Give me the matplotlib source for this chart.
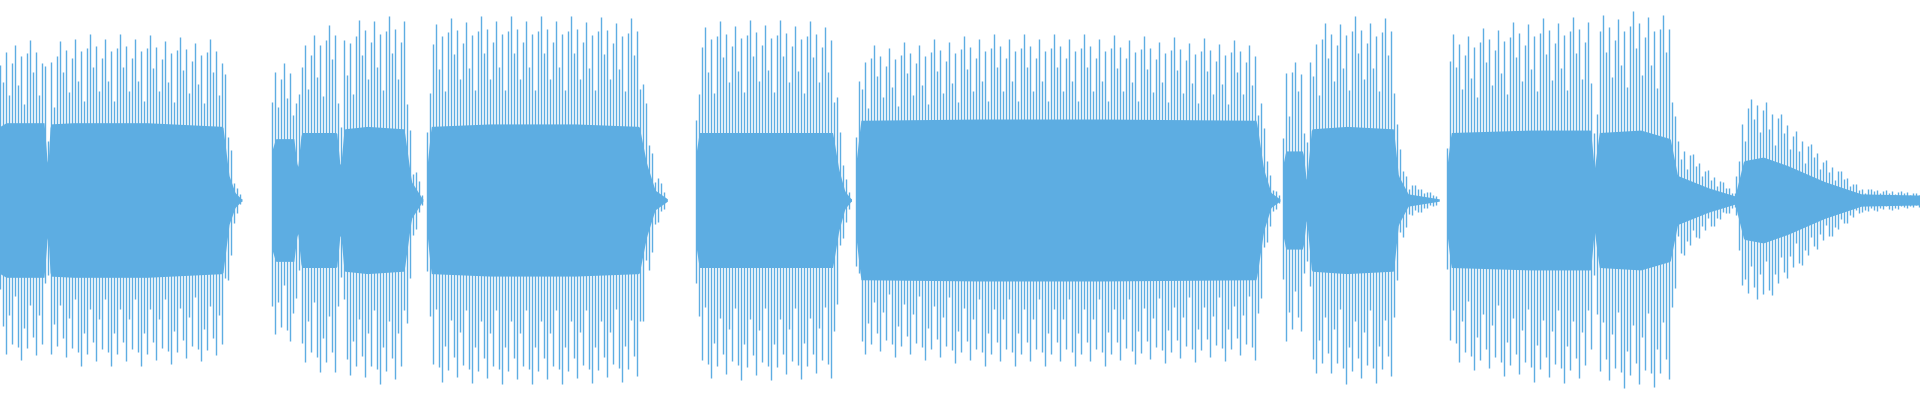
import numpy as np
import matplotlib
matplotlib.use("Agg")
import matplotlib.pyplot as plt

# envelope keypoints per segment, in reference display units (width 1568, half-height 163)
seg_x = [
    [0, 5, 36, 39, 41, 60, 120, 182, 187, 192, 197],
    [222, 225, 240, 243, 246, 275, 278, 281, 300, 330, 336, 345],
    [349, 352, 400, 470, 522, 528, 535, 545],
    [568, 571, 620, 680, 685, 690, 695],
    [699, 703, 800, 900, 1026, 1032, 1038, 1045],
    [1048, 1050, 1064, 1067, 1071, 1100, 1138, 1142, 1150, 1175],
    [1182, 1185, 1250, 1299, 1302, 1306, 1340, 1364, 1370, 1395, 1418],
    [1418, 1424, 1440, 1460, 1490, 1520, 1568],
]
seg_peak = [
    [110, 130, 130, 60, 125, 135, 135, 130, 60, 15, 2],
    [100, 115, 115, 60, 135, 145, 60, 140, 150, 150, 40, 3],
    [60, 148, 150, 150, 148, 80, 25, 3],
    [70, 145, 147, 145, 60, 20, 3],
    [60, 125, 135, 135, 130, 60, 15, 3],
    [70, 115, 110, 40, 140, 150, 148, 50, 15, 3],
    [70, 135, 148, 150, 60, 150, 155, 150, 50, 25, 6],
    [20, 80, 85, 65, 35, 10, 6],
]
seg_core = [
    [60, 63, 63, 25, 62, 63, 63, 60, 20, 6, 1],
    [40, 50, 50, 25, 55, 55, 25, 58, 60, 58, 15, 1],
    [30, 60, 62, 62, 60, 30, 8, 1],
    [35, 55, 55, 55, 25, 7, 1],
    [30, 65, 66, 66, 65, 25, 6, 1],
    [30, 40, 40, 15, 58, 60, 58, 20, 5, 1],
    [30, 55, 57, 57, 25, 55, 57, 50, 20, 10, 3],
    [8, 32, 35, 28, 15, 5, 4],
]
# relative bar heights within one beat cycle of the waveform
beat = [1.0, 0.8, 0.93, 0.66, 0.86, 0.97, 0.72, 0.9, 0.6, 0.92]

SX = 1920 / 1568
SY = 200 / 163
color = "#5dade2"
fig = plt.figure(figsize=(19.2, 4.0), dpi=100)
ax = fig.add_axes([0, 0, 1, 1])
k = 0
for xs, pk, cr in zip(seg_x, seg_peak, seg_core):
    xs = np.array(xs) * SX
    pk = np.array(pk) * SY
    cr = np.array(cr) * SY
    xx = np.arange(xs[0], xs[-1] + 1, 1.0)
    ax.fill_between(xx, -np.interp(xx, xs, cr), np.interp(xx, xs, cr),
                    color=color, lw=0)
    bx = np.arange(xs[0], xs[-1], 3.0)
    for b in bx:
        p = np.interp(b, xs, pk) * beat[k % len(beat)]
        c = np.interp(b, xs, cr)
        h = max(p, c)
        lo = np.interp(b, xs, pk) * beat[(k + 3) % len(beat)]
        ax.vlines(b, -max(lo, c), h, color=color, lw=1.0)
        k += 1
ax.set_xlim(0, 1920)
ax.set_ylim(-200, 200)
ax.axis("off")
fig.savefig("out.png", dpi=100)
